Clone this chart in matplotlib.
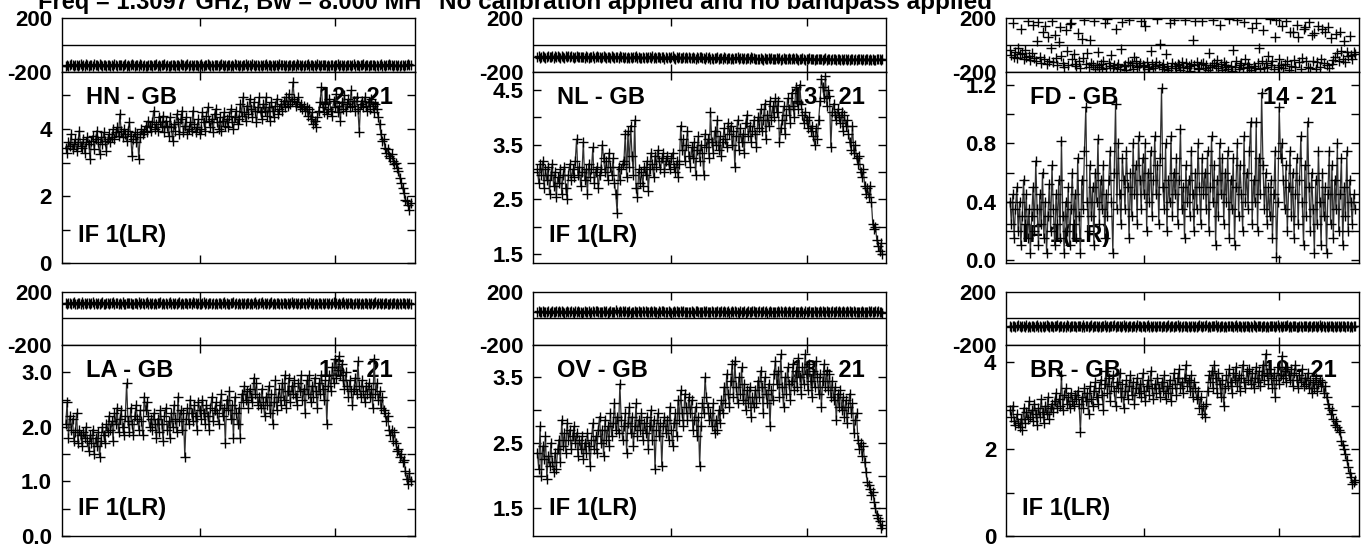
import matplotlib
matplotlib.use("Agg")
import matplotlib.pyplot as plt
import numpy as np

plt.rcParams['font.family'] = ['Liberation Sans', 'DejaVu Sans']
plt.rcParams['font.weight'] = 'bold'

# ---------------- data ----------------
channels = np.arange(1, 257)

baselines = ["HN - GB", "NL - GB", "FD - GB", "LA - GB", "OV - GB", "BR - GB"]
antenna_pairs = ["12 - 21", "13 - 21", "14 - 21", "15 - 21", "18 - 21", "19 - 21"]
if_label = "IF 1(LR)"
title_left = "Freq = 1.3097 GHz, Bw = 8.000 MH"
title_right = "No calibration applied and no bandpass applied"

hn_amp = [
    3.45, 3.30, 3.60, 3.50, 3.85, 3.40, 3.55, 3.70, 3.35, 3.60, 3.95, 3.50, 3.45, 3.70, 3.30, 3.60,
    3.75, 3.55, 3.10, 3.65, 3.80, 3.40, 3.70, 3.95, 3.60, 3.25, 3.75, 3.55, 3.90, 3.65, 3.35, 3.70,
    3.85, 3.60, 3.75, 4.00, 3.70, 3.90, 4.05, 3.80, 4.45, 3.95, 3.75, 4.00, 3.85, 3.65, 3.95, 4.20,
    3.80, 3.20, 3.70, 3.90, 3.60, 3.85, 3.10, 3.75, 4.00, 3.85, 3.95, 4.10, 3.90, 4.25, 4.05, 3.95,
    4.20, 4.55, 4.00, 4.15, 3.95, 4.35, 4.20, 4.05, 4.40, 3.90, 4.25, 4.10, 3.80, 4.35, 4.05, 3.65,
    4.15, 3.95, 4.45, 4.20, 3.85, 4.30, 4.55, 3.90, 4.10, 4.35, 3.85, 4.00, 4.20, 3.95, 4.55, 4.15,
    3.90, 4.05, 4.30, 3.85, 4.00, 4.50, 4.20, 3.95, 4.40, 4.65, 4.25, 4.05, 4.30, 3.90, 4.45, 4.60,
    4.20, 4.00, 4.35, 3.95, 4.25, 4.50, 4.10, 4.30, 4.05, 4.40, 4.60, 4.20, 4.00, 4.35, 4.55, 4.15,
    4.30, 4.75, 4.40, 4.95, 4.50, 4.25, 4.70, 4.45, 4.90, 4.60, 4.35, 4.80, 4.55, 4.20, 4.65, 4.95,
    4.50, 4.30, 4.75, 4.55, 4.95, 4.40, 4.65, 4.25, 4.80, 4.55, 4.35, 4.70, 4.90, 4.45, 4.60, 4.75,
    4.55, 4.85, 4.65, 4.95, 4.70, 5.05, 4.75, 4.85, 5.40, 4.90, 4.70, 4.80, 4.95, 4.65, 4.75, 4.60,
    4.70, 4.55, 4.65, 4.40, 4.60, 4.30, 4.50, 4.15, 4.25, 4.05, 4.35, 4.55, 4.80, 5.25, 4.65, 4.50,
    4.75, 4.45, 4.60, 4.90, 4.55, 4.40, 4.85, 4.65, 5.05, 4.50, 4.70, 4.25, 4.80, 4.60, 5.00, 4.55,
    4.75, 4.90, 4.65, 5.15, 4.70, 4.85, 4.55, 4.95, 4.60, 3.90, 4.75, 4.85, 4.65, 4.95, 4.70, 4.55,
    4.80, 4.60, 4.90, 4.70, 4.50, 4.75, 4.60, 4.35, 4.15, 3.85, 3.65, 3.70, 3.45, 3.30, 3.40, 3.20,
    3.15, 3.25, 3.05, 2.95, 3.00, 2.85, 2.75, 2.55, 2.40, 2.25, 2.10, 1.90, 1.85, 1.75, 1.60, 1.80,
]

nl_amp = [
    3.05, 2.80, 3.15, 2.95, 3.20, 2.70, 3.05, 2.85, 3.10, 2.60, 2.95, 3.15, 2.75, 3.00, 2.55, 2.90,
    2.80, 3.05, 2.60, 2.95, 3.10, 2.70, 2.50, 2.95, 3.15, 2.85, 3.05, 2.90, 3.20, 3.60, 2.95, 3.10,
    2.75, 3.00, 3.55, 2.85, 3.05, 2.60, 3.15, 2.90, 3.05, 3.45, 2.80, 3.00, 3.10, 2.70, 2.95, 3.05,
    3.50, 3.25, 3.00, 3.20, 2.85, 3.35, 3.10, 2.95, 3.25, 2.80, 2.60, 2.25, 3.10, 2.85, 3.05, 3.15,
    3.20, 3.70, 2.90, 3.75, 3.10, 3.85, 3.30, 2.95, 3.95, 2.70, 2.55, 3.05, 2.80, 3.00, 2.75, 3.10,
    2.95, 3.20, 2.65, 3.05, 3.35, 3.15, 2.90, 3.30, 3.10, 3.40, 3.20, 3.05, 3.25, 3.35, 3.00, 3.20,
    3.30, 3.15, 3.05, 3.25, 3.35, 3.10, 3.00, 3.20, 2.90, 3.15, 3.85, 3.40, 3.60, 3.20, 3.50, 3.75,
    3.30, 3.10, 3.45, 3.25, 3.55, 2.95, 3.40, 3.65, 3.20, 3.50, 3.35, 2.95, 3.70, 3.45, 3.60, 3.25,
    4.10, 3.55, 3.35, 3.75, 3.50, 3.95, 3.40, 3.65, 3.30, 3.55, 3.80, 3.60, 3.45, 3.90, 3.70, 3.85,
    3.50, 3.75, 3.10, 3.65, 3.95, 3.40, 3.80, 3.55, 3.70, 3.35, 3.90, 4.05, 3.65, 3.85, 3.55, 3.75,
    3.95, 3.70, 3.45, 4.00, 3.80, 4.15, 3.75, 3.95, 4.25, 3.60, 4.05, 3.85, 4.30, 3.95, 4.20, 4.00,
    4.35, 4.10, 4.30, 3.55, 3.80, 3.95, 4.20, 3.70, 4.05, 4.35, 4.15, 3.90, 4.45, 4.20, 4.00, 4.55,
    4.30, 4.15, 4.60, 4.25, 4.05, 3.90, 4.10, 3.95, 3.80, 4.00, 3.75, 3.85, 3.65, 3.50, 3.80, 3.60,
    3.95, 4.30, 4.70, 4.55, 4.35, 4.75, 4.20, 4.50, 4.40, 3.45, 4.10, 4.25, 4.05, 3.95, 4.15, 4.00,
    3.90, 4.10, 3.75, 4.05, 3.85, 3.95, 3.70, 3.55, 3.40, 3.85, 3.35, 3.50, 3.25, 3.15, 3.30, 3.00,
    2.90, 3.05, 2.75, 2.60, 2.70, 2.55, 2.75, 2.45, 2.05, 1.95, 2.00, 1.75, 1.65, 1.55, 1.70, 1.50,
]

fd_amp = [
    0.40, 0.25, 0.45, 0.15, 0.35, 0.50, 0.20, 0.40, 0.10, 0.30, 0.55, 0.25, 0.45, 0.15, 0.35, 0.05,
    0.30, 0.50, 0.20, 0.68, 0.35, 0.10, 0.45, 0.25, 0.60, 0.15, 0.40, 0.05, 0.30, 0.52, 0.20, 0.65,
    0.35, 0.10, 0.45, 0.25, 0.55, 0.15, 0.82, 0.30, 0.05, 0.40, 0.20, 0.50, 0.10, 0.35, 0.60, 0.25,
    0.45, 0.15, 0.70, 0.30, 0.05, 0.55, 0.35, 0.75, 1.05, 0.40, 0.20, 0.65, 0.30, 0.50, 0.10, 0.60,
    0.40, 0.83, 0.25, 0.55, 0.35, 0.65, 0.15, 0.45, 0.30, 0.55, 0.75, 0.40, 0.05, 0.60, 1.07, 0.35,
    0.80, 0.45, 0.25, 0.70, 0.55, 0.35, 0.75, 0.50, 0.15, 0.60, 0.30, 0.80, 0.45, 0.65, 0.25, 0.85,
    0.55, 0.35, 0.70, 0.45, 0.80, 0.20, 0.60, 0.40, 0.75, 0.30, 0.55, 0.85, 0.45, 0.65, 0.25, 0.70,
    1.18, 0.50, 0.35, 0.80, 0.20, 0.55, 0.40, 0.85, 0.30, 0.60, 0.45, 0.70, 0.25, 0.55, 0.90, 0.35,
    0.50, 0.15, 0.65, 0.40, 0.55, 0.30, 0.75, 0.45, 0.20, 0.60, 0.35, 0.80, 0.50, 0.25, 0.70, 0.45,
    0.60, 0.35, 0.75, 0.20, 0.50, 0.85, 0.40, 0.65, 0.10, 0.55, 0.30, 0.80, 0.45, 0.70, 0.25, 0.60,
    0.40, 0.75, 0.15, 0.55, 0.35, 0.70, 0.10, 0.50, 0.80, 0.30, 0.65, 0.45, 0.20, 0.85, 0.40, 0.60,
    0.35, 0.75, 0.95, 0.25, 0.55, 0.40, 0.95, 0.20, 0.70, 0.45, 1.15, 0.65, 0.35, 0.60, 0.25, 0.50,
    0.30, 0.55, 0.15, 0.45, 0.75, 0.02, 0.40, 1.05, 0.70, 0.80, 0.55, 0.35, 0.65, 0.20, 0.50, 0.75,
    0.30, 0.60, 0.15, 0.45, 0.70, 0.25, 0.55, 0.85, 0.40, 0.10, 0.65, 0.30, 0.95, 0.50, 0.20, 0.60,
    0.35, 0.05, 0.55, 0.25, 0.75, 0.40, 0.10, 0.60, 0.30, 0.50, 0.05, 0.45, 0.75, 0.25, 0.65, 0.15,
    0.55, 0.35, 0.80, 0.20, 0.45, 0.70, 0.10, 0.50, 0.30, 0.75, 0.20, 0.55, 0.40, 0.25, 0.45, 0.35,
]

la_amp = [
    2.05, 2.45, 1.80, 2.20, 1.95, 2.15, 1.75, 1.90, 2.25, 1.70, 1.95, 1.85, 1.65, 1.90, 1.80, 2.00,
    1.75, 1.55, 1.85, 1.70, 1.95, 1.50, 1.80, 1.65, 1.90, 1.45, 1.75, 2.00, 1.85, 1.70, 2.05, 1.90,
    2.20, 1.95, 2.10, 1.75, 2.25, 2.05, 2.35, 1.90, 2.15, 2.30, 2.00, 1.85, 2.20, 2.80, 2.10, 1.90,
    2.35, 2.05, 1.85, 2.20, 2.40, 2.15, 1.95, 2.30, 2.10, 1.85, 2.55, 2.30, 2.45, 2.20, 2.00, 2.15,
    1.95, 2.25, 2.05, 1.80, 2.15, 1.90, 2.30, 2.05, 1.75, 2.20, 2.35, 1.95, 2.10, 1.80, 2.25, 2.00,
    2.40, 2.15, 1.90, 2.55, 2.10, 2.30, 1.95, 2.25, 1.45, 2.15, 2.35, 2.05, 2.50, 2.25, 2.10, 2.40,
    2.20, 1.95, 2.45, 2.30, 2.15, 2.50, 2.25, 2.05, 2.40, 2.20, 1.95, 2.35, 2.55, 2.10, 2.30, 2.45,
    2.25, 2.05, 2.40, 2.60, 2.20, 2.35, 1.70, 2.50, 2.30, 2.65, 2.15, 2.40, 1.80, 2.55, 2.25, 2.05,
    2.35, 1.80, 2.60, 2.45, 2.75, 2.50, 2.65, 2.35, 2.70, 2.55, 2.45, 2.90, 2.60, 2.80, 2.40, 2.55,
    2.35, 2.70, 2.45, 2.20, 2.55, 2.40, 2.75, 2.25, 2.60, 2.05, 2.45, 2.85, 2.30, 2.55, 2.70, 2.40,
    2.80, 2.50, 2.95, 2.35, 2.65, 2.90, 2.45, 2.75, 2.60, 2.85, 2.55, 2.40, 2.80, 2.65, 2.95, 2.50,
    2.70, 2.25, 2.85, 2.60, 2.95, 2.45, 2.75, 2.55, 2.90, 2.65, 2.35, 2.80, 2.60, 2.95, 2.70, 2.50,
    2.85, 2.05, 2.75, 2.95, 2.65, 3.10, 2.80, 3.25, 2.90, 3.05, 3.30, 2.95, 3.15, 2.85, 2.70, 3.00,
    2.75, 2.55, 2.85, 2.65, 2.40, 2.70, 2.90, 2.60, 3.20, 2.75, 2.55, 2.85, 2.65, 2.45, 2.75, 2.60,
    2.80, 2.55, 2.70, 2.35, 3.25, 2.60, 2.80, 2.50, 2.65, 2.35, 2.55, 2.30, 2.25, 2.10, 2.20, 1.95,
    1.85, 1.95, 1.75, 1.90, 1.70, 1.55, 1.60, 1.45, 1.50, 1.35, 1.40, 1.20, 1.05, 0.95, 1.15, 1.00,
]

ov_amp = [
    2.35, 2.10, 2.75, 2.00, 2.45, 2.25, 2.60, 1.95, 2.30, 2.15, 2.50, 2.20, 2.05, 2.35, 2.10, 2.40,
    2.55, 2.20, 2.85, 2.45, 2.65, 2.35, 2.80, 2.55, 2.70, 2.40, 2.60, 2.75, 2.50, 2.65, 2.30, 2.55,
    2.40, 2.60, 2.25, 2.50, 2.35, 2.65, 2.45, 2.15, 2.55, 2.80, 2.40, 2.60, 2.35, 2.70, 2.90, 2.50,
    2.70, 2.30, 2.85, 2.55, 2.75, 2.45, 2.95, 2.60, 2.80, 3.10, 2.70, 2.90, 2.65, 3.40, 2.85, 2.55,
    2.75, 2.95, 2.35, 2.80, 3.05, 2.65, 2.90, 2.45, 2.75, 3.10, 2.60, 2.85, 2.70, 2.95, 2.55, 2.80,
    2.65, 2.90, 2.40, 2.75, 3.00, 2.55, 2.85, 2.10, 2.70, 2.95, 2.60, 2.80, 2.15, 2.75, 2.90, 2.65,
    2.85, 2.55, 3.05, 2.70, 2.45, 2.80, 2.95, 2.60, 3.15, 2.85, 3.30, 2.95, 2.75, 3.25, 3.05, 2.85,
    3.20, 2.95, 3.15, 2.70, 2.85, 3.05, 2.60, 2.90, 2.15, 2.75, 3.10, 2.95, 3.50, 3.20, 3.05, 2.85,
    2.95, 2.75, 3.10, 2.65, 2.85, 2.70, 3.00, 2.80, 3.15, 2.95, 3.35, 3.10, 3.55, 3.25, 3.05, 3.45,
    3.70, 3.20, 3.75, 3.35, 3.10, 3.50, 3.25, 3.65, 3.15, 3.40, 3.00, 3.30, 3.10, 3.35, 2.90, 3.20,
    3.05, 3.30, 3.10, 3.45, 3.20, 3.60, 3.35, 2.95, 3.50, 3.25, 3.10, 3.40, 2.75, 3.30, 3.15, 3.55,
    3.75, 3.40, 3.60, 3.20, 3.85, 3.35, 3.05, 3.50, 3.25, 3.65, 3.40, 3.15, 3.45, 3.70, 3.30, 3.60,
    3.35, 3.80, 3.50, 3.25, 3.65, 3.40, 3.85, 3.55, 3.30, 3.70, 3.45, 3.20, 3.60, 3.35, 3.75, 3.50,
    3.25, 3.55, 3.05, 3.45, 3.70, 3.35, 3.60, 3.30, 3.55, 3.20, 3.45, 3.15, 3.35, 2.85, 3.25, 3.05,
    3.30, 3.00, 3.20, 2.90, 3.15, 2.80, 3.05, 3.25, 2.95, 3.10, 2.65, 2.85, 2.95, 2.55, 2.40, 2.50,
    2.30, 2.45, 2.20, 2.05, 1.90, 1.85, 1.80, 1.70, 1.75, 1.60, 1.50, 1.40, 1.35, 1.30, 1.20, 1.25,
]

br_amp = [
    2.90, 2.75, 3.00, 2.65, 2.55, 2.80, 2.60, 2.50, 2.70, 2.45, 2.95, 2.60, 2.85, 2.70, 3.10, 2.75,
    2.90, 2.65, 3.05, 2.80, 2.55, 2.95, 2.75, 3.15, 2.85, 2.60, 3.00, 2.80, 3.20, 2.70, 2.95, 3.05,
    2.85, 3.10, 3.30, 2.95, 3.15, 3.00, 3.70, 2.90, 3.25, 3.40, 3.05, 3.20, 2.95, 3.30, 3.10, 3.00,
    3.25, 3.15, 3.35, 3.05, 2.40, 3.20, 2.95, 3.40, 3.10, 3.30, 2.80, 3.45, 3.15, 3.00, 3.35, 3.55,
    3.20, 3.05, 3.40, 3.60, 3.25, 2.90, 3.50, 3.80, 3.30, 3.65, 3.10, 3.45, 3.70, 3.35, 3.00, 3.55,
    3.40, 3.75, 3.20, 3.50, 2.95, 3.35, 3.60, 3.15, 3.45, 3.70, 3.25, 3.55, 3.05, 3.40, 3.65, 3.30,
    3.50, 3.20, 3.75, 3.35, 3.10, 3.45, 3.60, 3.25, 3.80, 3.40, 3.15, 3.50, 3.30, 3.65, 3.40, 3.20,
    3.55, 3.35, 3.70, 3.15, 3.45, 3.30, 3.60, 3.10, 3.40, 3.75, 3.50, 3.25, 3.65, 3.85, 3.40, 3.55,
    3.30, 3.65, 3.95, 3.45, 3.60, 3.35, 3.70, 3.20, 3.55, 3.40, 3.15, 3.35, 2.95, 3.20, 2.80, 3.00,
    2.75, 3.05, 3.35, 3.70, 3.55, 3.80, 3.40, 3.95, 3.65, 3.30, 3.75, 3.50, 3.20, 3.60, 3.00, 3.40,
    3.70, 3.45, 3.85, 3.55, 3.30, 3.75, 3.60, 3.90, 3.45, 3.70, 3.35, 3.65, 3.95, 3.55, 3.40, 3.80,
    3.60, 3.85, 3.50, 3.75, 3.40, 3.65, 3.90, 3.55, 3.80, 3.45, 3.70, 3.95, 3.60, 4.20, 3.75, 3.50,
    3.85, 3.65, 3.40, 3.75, 3.20, 3.60, 3.90, 3.50, 3.70, 4.15, 3.65, 3.80, 3.55, 3.90, 3.70, 3.60,
    3.85, 3.45, 3.75, 3.95, 3.60, 3.40, 3.70, 3.55, 3.85, 3.45, 3.65, 3.50, 3.75, 3.40, 3.60, 3.30,
    3.55, 3.40, 3.65, 3.35, 3.50, 3.60, 3.45, 3.55, 3.30, 3.45, 3.20, 3.05, 2.95, 2.80, 2.90, 2.70,
    2.55, 2.65, 2.50, 2.45, 2.40, 2.20, 2.10, 2.00, 1.90, 1.75, 1.60, 1.45, 1.35, 1.20, 1.25, 1.30,
]

hn_phase = [
    -152, -146, -155, -149, -143, -151, -157, -148, -145, -153, -150, -141, -156, -147, -152, -144,
    -149, -155, -146, -151, -158, -144, -150, -147, -154, -142, -151, -156, -148, -145, -153, -150,
    -146, -152, -149, -157, -143, -150, -154, -147, -151, -145, -159, -148, -144, -152, -149, -155,
    -151, -143, -148, -154, -150, -146, -156, -141, -149, -153, -147, -152, -158, -145, -150, -148,
    -155, -147, -151, -144, -152, -149, -157, -146, -150, -143, -154, -148, -152, -156, -145, -151,
    -148, -153, -145, -150, -157, -142, -151, -147, -155, -149, -144, -152, -150, -146, -158, -149,
    -150, -145, -153, -148, -141, -152, -156, -147, -151, -144, -149, -155, -146, -153, -148, -150,
    -147, -154, -149, -143, -151, -157, -146, -152, -148, -145, -153, -150, -156, -144, -151, -147,
    -152, -148, -155, -146, -150, -143, -154, -149, -147, -153, -141, -151, -156, -148, -145, -152,
    -149, -156, -147, -151, -144, -153, -148, -150, -157, -145, -152, -146, -149, -154, -143, -150,
    -146, -151, -155, -148, -152, -145, -150, -158, -147, -149, -153, -144, -151, -147, -155, -149,
    -153, -147, -150, -144, -156, -149, -146, -152, -148, -155, -143, -150, -154, -147, -151, -145,
    -150, -155, -148, -152, -145, -149, -157, -146, -151, -144, -153, -148, -150, -156, -147, -152,
    -145, -151, -149, -154, -147, -143, -152, -150, -146, -155, -148, -151, -144, -153, -149, -147,
    -154, -148, -151, -145, -150, -156, -147, -153, -149, -144, -152, -146, -155, -150, -148, -143,
    -151, -147, -153, -149, -145, -152, -148, -155, -146, -150, -153, -147, -149, -144, -151, -148,
]

nl_phase = [
    -90, -84, -93, -87, -81, -89, -95, -86, -83, -91, -88, -79, -94, -85, -90, -82,
    -87, -93, -84, -89, -96, -82, -88, -85, -92, -80, -89, -94, -86, -83, -91, -88,
    -86, -92, -89, -97, -83, -90, -94, -87, -91, -85, -99, -88, -84, -92, -89, -95,
    -91, -83, -88, -94, -90, -86, -96, -81, -89, -93, -87, -92, -98, -85, -90, -88,
    -97, -89, -93, -86, -94, -91, -99, -88, -92, -85, -96, -90, -94, -98, -87, -93,
    -90, -95, -87, -92, -99, -84, -93, -89, -97, -91, -86, -94, -92, -88, -100, -91,
    -94, -89, -97, -92, -85, -96, -100, -91, -95, -88, -93, -99, -90, -97, -92, -94,
    -91, -98, -93, -87, -95, -101, -90, -96, -92, -89, -97, -94, -100, -88, -95, -91,
    -100, -96, -103, -94, -98, -91, -102, -97, -95, -101, -89, -99, -104, -96, -93, -100,
    -97, -104, -95, -99, -92, -101, -96, -98, -105, -93, -100, -94, -97, -102, -91, -98,
    -98, -103, -107, -100, -104, -97, -102, -110, -99, -101, -105, -96, -103, -99, -107, -101,
    -105, -99, -102, -96, -108, -101, -98, -104, -100, -107, -95, -102, -106, -99, -103, -97,
    -104, -109, -102, -106, -99, -103, -111, -100, -105, -98, -107, -102, -104, -110, -101, -106,
    -101, -107, -105, -110, -103, -99, -108, -106, -102, -111, -104, -107, -100, -109, -105, -103,
    -111, -105, -108, -102, -107, -113, -104, -110, -106, -101, -109, -103, -112, -107, -105, -100,
    -109, -105, -111, -107, -103, -110, -106, -113, -104, -108, -111, -105, -107, -102, -109, -106,
]

fd_phase = [
    -35, -72, 160, -88, -50, -95, -20, -70, 120, -58, -105, -40, -90, 175, -78, -112,
    -60, 150, -95, -120, 30, 172, -88, -130, 95, -102, 140, -140, 60, -115, -25, 180,
    -125, 75, -98, -150, 20, 130, -80, -135, -160, 110, -45, -145, 155, 165, -105, -70,
    -138, -155, 88, -115, -170, 45, -95, 185, -142, -60, -165, 40, -130, -150, 178, -175,
    -145, -55, -160, -138, -180, -115, 165, -170, 190, -135, -155, -75, -168, -148, 120, -162,
    -140, -175, -30, 170, -155, -145, -185, -125, 188, -150, -135, -178, -90, -120, -165, -152,
    -132, 180, -148, -158, 140, -125, -162, -180, -45, -138, -172, -155, -128, 192, -150, 10,
    -160, -140, -175, -65, -152, -185, 160, -168, -135, 182, -158, -172, -140, -150, -188, -128,
    -165, 185, -130, -172, -155, -190, -138, 35, -148, 175, -125, -168, -180, -142, 178, -135,
    -170, -150, -185, -60, -162, -145, 188, -132, -158, -110, -168, 150, -140, -182, -125, -160,
    -148, -175, 190, -155, -190, -40, -165, -120, 182, -180, -145, -130, -172, 170, -100, -165,
    -138, -160, -185, 125, -152, -170, 165, -135, -20, -178, -115, 110, -168, -130, -160, -85,
    190, -145, -120, -175, 60, 182, -160, -105, -150, 140, -170, -140, 175, -118, -185, 95,
    -155, 100, -110, -165, 150, 60, -125, -178, -95, 120, 130, -120, -160, 170, -170, 75,
    -115, 90, -175, -125, 140, -160, -105, 115, -135, 95, -150, 135, -170, 50, -140, -110,
    -90, 80, -60, -115, 100, -45, -100, 30, -125, -55, -85, 70, -75, -105, -50, -65,
]

la_phase = [
    115, 109, 118, 112, 106, 114, 120, 111, 108, 116, 113, 104, 119, 110, 115, 107,
    112, 118, 109, 114, 121, 107, 113, 110, 117, 105, 114, 119, 111, 108, 116, 113,
    109, 115, 112, 120, 106, 113, 117, 110, 114, 108, 122, 111, 107, 115, 112, 118,
    114, 106, 111, 117, 113, 109, 119, 104, 112, 116, 110, 115, 121, 108, 113, 111,
    118, 110, 114, 107, 115, 112, 120, 109, 113, 106, 117, 111, 115, 119, 108, 114,
    111, 116, 108, 113, 120, 105, 114, 110, 118, 112, 107, 115, 113, 109, 121, 112,
    113, 108, 116, 111, 104, 115, 119, 110, 114, 107, 112, 118, 109, 116, 111, 113,
    110, 117, 112, 106, 114, 120, 109, 115, 111, 108, 116, 113, 119, 107, 114, 110,
    115, 111, 118, 109, 113, 106, 117, 112, 110, 116, 104, 114, 119, 111, 108, 115,
    112, 119, 110, 114, 107, 116, 111, 113, 120, 108, 115, 109, 112, 117, 106, 113,
    109, 114, 118, 111, 115, 108, 113, 121, 110, 112, 116, 107, 114, 110, 118, 112,
    116, 110, 113, 107, 119, 112, 109, 115, 111, 118, 106, 113, 117, 110, 114, 108,
    113, 118, 111, 115, 108, 112, 120, 109, 114, 107, 116, 111, 113, 119, 110, 115,
    108, 114, 112, 117, 110, 106, 115, 113, 109, 118, 111, 114, 107, 116, 112, 110,
    117, 111, 114, 108, 113, 119, 110, 116, 112, 107, 115, 109, 118, 113, 111, 106,
    114, 110, 116, 112, 108, 115, 111, 118, 109, 113, 116, 110, 112, 107, 114, 111,
]

ov_phase = [
    49, 55, 46, 51, 58, 44, 50, 47, 54, 42, 51, 56, 48, 45, 53, 50,
    52, 46, 55, 49, 43, 51, 57, 48, 45, 53, 50, 41, 56, 47, 52, 44,
    51, 43, 48, 54, 50, 46, 56, 41, 49, 53, 47, 52, 58, 45, 50, 48,
    46, 52, 49, 57, 43, 50, 54, 47, 51, 45, 59, 48, 44, 52, 49, 55,
    48, 53, 45, 50, 57, 42, 51, 47, 55, 49, 44, 52, 50, 46, 58, 49,
    55, 47, 51, 44, 52, 49, 57, 46, 50, 43, 54, 48, 52, 56, 45, 51,
    47, 54, 49, 43, 51, 57, 46, 52, 48, 45, 53, 50, 56, 44, 51, 47,
    50, 45, 53, 48, 41, 52, 56, 47, 51, 44, 49, 55, 46, 53, 48, 50,
    49, 56, 47, 51, 44, 53, 48, 50, 57, 45, 52, 46, 49, 54, 43, 50,
    52, 48, 55, 46, 50, 43, 54, 49, 47, 53, 41, 51, 56, 48, 45, 52,
    53, 47, 50, 44, 56, 49, 46, 52, 48, 55, 43, 50, 54, 47, 51, 45,
    46, 51, 55, 48, 52, 45, 50, 58, 47, 49, 53, 44, 51, 47, 55, 49,
    45, 51, 49, 54, 47, 43, 52, 50, 46, 55, 48, 51, 44, 53, 49, 47,
    50, 55, 48, 52, 45, 49, 57, 46, 51, 44, 53, 48, 50, 56, 47, 52,
    51, 47, 53, 49, 45, 52, 48, 55, 46, 50, 53, 47, 49, 44, 51, 48,
    54, 48, 51, 45, 50, 56, 47, 53, 49, 44, 52, 46, 55, 50, 48, 43,
]

br_phase = [
    -57, -63, -54, -60, -66, -58, -52, -61, -64, -56, -59, -68, -53, -62, -57, -65,
    -60, -54, -63, -58, -51, -65, -59, -62, -55, -67, -58, -53, -61, -64, -56, -59,
    -63, -57, -60, -52, -66, -59, -55, -62, -58, -64, -50, -61, -65, -57, -60, -54,
    -58, -66, -61, -55, -59, -63, -53, -68, -60, -56, -62, -57, -51, -64, -59, -61,
    -54, -62, -58, -65, -57, -60, -52, -63, -59, -66, -55, -61, -57, -53, -64, -58,
    -61, -56, -64, -59, -52, -67, -58, -62, -54, -60, -65, -57, -59, -63, -51, -60,
    -59, -64, -56, -61, -68, -57, -53, -62, -58, -65, -60, -54, -63, -56, -61, -59,
    -62, -55, -60, -66, -58, -52, -63, -57, -61, -64, -56, -59, -53, -65, -58, -62,
    -57, -61, -54, -63, -59, -66, -55, -60, -62, -56, -68, -58, -53, -61, -64, -57,
    -60, -53, -62, -58, -65, -56, -61, -59, -52, -64, -57, -63, -60, -55, -66, -59,
    -63, -58, -54, -61, -57, -64, -59, -51, -62, -60, -56, -65, -58, -62, -54, -60,
    -56, -62, -59, -65, -53, -60, -63, -57, -61, -54, -66, -59, -55, -62, -58, -64,
    -59, -54, -61, -57, -64, -60, -52, -63, -58, -65, -56, -61, -59, -53, -62, -57,
    -64, -58, -60, -55, -62, -66, -57, -59, -63, -54, -61, -58, -65, -56, -60, -62,
    -55, -61, -58, -64, -59, -53, -62, -56, -60, -65, -57, -63, -54, -59, -61, -66,
    -58, -62, -56, -60, -64, -57, -61, -54, -63, -59, -56, -62, -60, -65, -58, -61,
]

amps = [hn_amp, nl_amp, fd_amp, la_amp, ov_amp, br_amp]
phases = [hn_phase, nl_phase, fd_phase, la_phase, ov_phase, br_phase]

amp_ylims = [(0, 5.7), (1.33, 4.83), (-0.023, 1.291), (0, 3.5), (1.077, 3.993), (0, 4.4)]
amp_ticks = [[0, 1, 2, 3, 4, 5],
             [1.5, 2.0, 2.5, 3.0, 3.5, 4.0, 4.5],
             [0.0, 0.2, 0.4, 0.6, 0.8, 1.0, 1.2],
             [0.0, 0.5, 1.0, 1.5, 2.0, 2.5, 3.0],
             [1.5, 2.0, 2.5, 3.0, 3.5],
             [0, 1, 2, 3, 4]]
amp_ticklabels = [["0", "", "2", "", "4", ""],
                  ["1.5", "", "2.5", "", "3.5", "", "4.5"],
                  ["0.0", "", "0.4", "", "0.8", "", "1.2"],
                  ["0.0", "", "1.0", "", "2.0", "", "3.0"],
                  ["1.5", "", "2.5", "", "3.5"],
                  ["0", "", "2", "", "4"]]
phase_ticks = [-200, 200]
phase_ticklabels = ["-200", "200"]
x_ticks = [100, 200]

# ---------------- layout (pixels) ----------------
W, H = 1366, 550
col_left = [61.7, 533.3, 1006.0]
col_width = 353.0
rows = [(18.0, 72.0, 263.3), (291.7, 345.0, 536.0)]  # phase top, boundary, amp bottom

fig = plt.figure(figsize=(W / 100, H / 100), dpi=100)

FS = 16
ink = "black"
MS = 7
MEW = 1.0


def px_axes(x0, y0, w, h):
    return fig.add_axes([x0 / W, 1 - (y0 + h) / H, w / W, h / H])


for i in range(6):
    r, c = divmod(i, 3)
    ptop, pbound, abot = rows[r]
    x0 = col_left[c]

    # phase panel
    axp = px_axes(x0, ptop, col_width, pbound - ptop)
    axp.plot(channels, phases[i], linestyle="none", marker="+", ms=MS, mew=MEW,
             color=ink, zorder=3)
    axp.axhline(0, color=ink, lw=1.0, zorder=2)
    axp.set_xlim(-2, 259)
    axp.set_ylim(-200, 200)
    axp.set_yticks(phase_ticks)
    axp.set_yticklabels(phase_ticklabels, fontsize=FS, fontweight="bold")
    axp.tick_params(axis="y", length=0, pad=7)
    axp.set_xticks(x_ticks)
    axp.set_xticklabels([])
    axp.tick_params(axis="x", direction="in", top=True, bottom=True, length=6, width=1.0)
    for s in axp.spines.values():
        s.set_linewidth(1.0)

    # amplitude panel
    axa = px_axes(x0, pbound, col_width, abot - pbound)
    axa.plot(channels, amps[i], linestyle="-", lw=0.9, color="#303030",
             marker="+", ms=MS, mew=MEW, mec=ink, zorder=3)
    axa.set_xlim(-2, 259)
    axa.set_ylim(*amp_ylims[i])
    axa.set_yticks(amp_ticks[i])
    axa.set_yticklabels(amp_ticklabels[i], fontsize=FS, fontweight="bold")
    axa.set_xticks(x_ticks)
    axa.set_xticklabels([])
    axa.tick_params(axis="both", direction="in", top=True, bottom=True,
                    left=True, right=True, length=6, width=1.0, pad=7)
    for s in axa.spines.values():
        s.set_linewidth(1.0)

    axa.text(0.068, 0.865, baselines[i], transform=axa.transAxes, fontsize=FS + 1,
             fontweight="bold", ha="left", va="center", zorder=1)
    axa.text(0.938, 0.865, antenna_pairs[i], transform=axa.transAxes, fontsize=FS + 1,
             fontweight="bold", ha="right", va="center", zorder=1)
    axa.text(0.045, 0.145, if_label, transform=axa.transAxes, fontsize=FS + 1,
             fontweight="bold", ha="left", va="center", zorder=1)

fig.text(38 / W, 1 - 8.5 / H, title_left, fontsize=FS + 1, fontweight="bold",
         ha="left", va="baseline")
fig.text(439 / W, 1 - 8.5 / H, title_right, fontsize=FS + 1.5, fontweight="bold",
         ha="left", va="baseline")

fig.savefig("out.png", dpi=100)
